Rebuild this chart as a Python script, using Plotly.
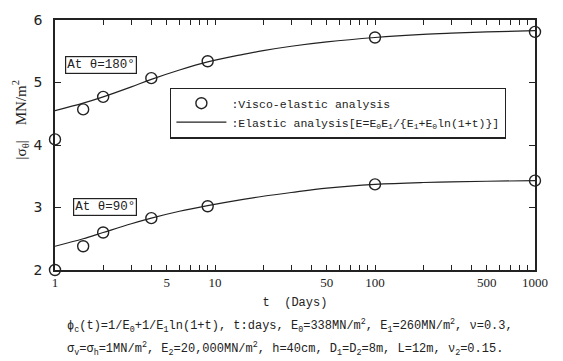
import plotly.graph_objects as go

# Visco-elastic analysis points
t_pts = [1, 1.5, 2, 4, 9, 100, 1000]
s180_pts = [4.09, 4.57, 4.77, 5.07, 5.34, 5.72, 5.81]
s90_pts = [2.00, 2.38, 2.60, 2.83, 3.02, 3.37, 3.43]

# Elastic analysis curves
t_curve = [1, 1.5, 2, 3, 4, 6, 9, 15, 20, 30, 50, 100, 200, 300, 500, 1000]
s180_curve = [4.55, 4.67, 4.77, 4.93, 5.05, 5.20, 5.33, 5.45, 5.51, 5.58, 5.65, 5.72, 5.77, 5.79, 5.81, 5.83]
s90_curve = [2.38, 2.50, 2.60, 2.74, 2.83, 2.94, 3.03, 3.13, 3.18, 3.24, 3.31, 3.37, 3.40, 3.41, 3.42, 3.43]

x_major = [1, 5, 10, 50, 100, 500, 1000]
y_ticks = [2, 3, 4, 5, 6]

FONT = "Liberation Mono"
INK = "#222"

fig = go.Figure()
fig.add_trace(go.Scatter(x=t_pts, y=s180_pts, mode="markers", name=":Visco-elastic analysis",
                         marker=dict(symbol="circle-open", size=11, color=INK, line=dict(width=1.4)),
                         cliponaxis=False, legendrank=1))
fig.add_trace(go.Scatter(x=t_pts, y=s90_pts, mode="markers", showlegend=False,
                         marker=dict(symbol="circle-open", size=11, color=INK, line=dict(width=1.4)),
                         cliponaxis=False))
fig.add_trace(go.Scatter(x=t_curve, y=s180_curve, mode="lines",
                         name=":Elastic analysis[E=E<sub>0</sub>E<sub>1</sub>/{E<sub>1</sub>+E<sub>0</sub>ln(1+t)}]",
                         line=dict(color=INK, width=1.2, shape="spline"), legendrank=2))
fig.add_trace(go.Scatter(x=t_curve, y=s90_curve, mode="lines", showlegend=False,
                         line=dict(color=INK, width=1.2, shape="spline")))

# tick values: all 1..9 x 10^k, labels only for majors
tv, tt = [], []
for k in [1, 10, 100]:
    for m in range(1, 10):
        v = m * k
        tv.append(v)
        tt.append(str(v) if v in x_major else "")
tv.append(1000)
tt.append("1000")

fig.update_xaxes(type="log", range=[0, 3], tickvals=tv, ticktext=tt,
                 ticks="inside", ticklen=5, tickcolor=INK, showline=True, linecolor=INK, linewidth=1.5,
                 mirror="ticks", showgrid=False, zeroline=False,
                 tickfont=dict(family="Liberation Serif", size=13, color=INK),
                 title=dict(text="t  (Days)", font=dict(family=FONT, size=12, color=INK), standoff=8))
fig.update_yaxes(range=[2, 6], tickvals=y_ticks, ticks="inside", ticklen=6, tickcolor=INK,
                 showline=True, linecolor=INK, linewidth=1.5, mirror="ticks", showgrid=False, zeroline=False,
                 tickfont=dict(family="DejaVu Sans", size=14, color=INK), ticklabelstandoff=8)

fig.add_annotation(xref="paper", yref="paper", x=0.02, y=0.82, xanchor="left", yanchor="middle",
                   text="At θ=180°", showarrow=False, bordercolor=INK, borderwidth=1.2, borderpad=1,
                   font=dict(family=FONT, size=12.5, color=INK), bgcolor="white")
fig.add_annotation(xref="paper", yref="paper", x=0.037, y=0.252, xanchor="left", yanchor="middle",
                   text="At θ=90°", showarrow=False, bordercolor=INK, borderwidth=1.2, borderpad=1,
                   font=dict(family=FONT, size=12.5, color=INK), bgcolor="white")

# y-axis title
fig.add_annotation(xref="paper", yref="paper", x=-0.072, y=0.6, xanchor="center", yanchor="middle",
                   text="|σ<sub>θ</sub>|    MN/m<sup>2</sup>", textangle=-90, showarrow=False,
                   font=dict(family="Liberation Serif", size=15, color=INK))

# caption
fig.add_annotation(xref="paper", yref="paper", x=0.02, y=-0.18, xanchor="left", yanchor="top", align="left",
                   text="ϕ<sub>c</sub>(t)=1/E<sub>0</sub>+1/E<sub>1</sub>ln(1+t), t:days, E<sub>0</sub>=338MN/m<sup>2</sup>, E<sub>1</sub>=260MN/m<sup>2</sup>, ν=0.3,",
                   showarrow=False, font=dict(family=FONT, size=12, color=INK))
fig.add_annotation(xref="paper", yref="paper", x=0.02, y=-0.27, xanchor="left", yanchor="top", align="left",
                   text="σ<sub>v</sub>=σ<sub>h</sub>=1MN/m<sup>2</sup>, E<sub>2</sub>=20,000MN/m<sup>2</sup>, h=40cm, D<sub>1</sub>=D<sub>2</sub>=8m, L=12m, ν<sub>2</sub>=0.15.",
                   showarrow=False, font=dict(family=FONT, size=12, color=INK))

fig.update_layout(
    width=563, height=361,
    margin=dict(l=55, r=28, t=16, b=91),
    paper_bgcolor="white", plot_bgcolor="white",
    showlegend=True,
    legend=dict(x=0.24, y=0.73, xanchor="left", yanchor="top", bordercolor=INK, borderwidth=1.2,
                bgcolor="white", font=dict(family=FONT, size=11.5, color=INK),
                tracegroupgap=0, itemwidth=50),
)

fig.write_html("out.html")
